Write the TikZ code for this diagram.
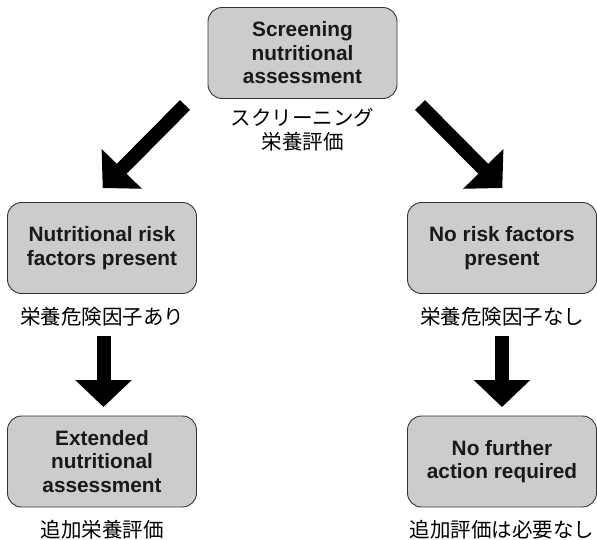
\documentclass[tikz,border=0pt]{standalone}
\usepackage{fontspec}
\setmainfont{Liberation Sans}
\newfontfamily\jpfont{Noto Sans CJK JP}
\usetikzlibrary{positioning,arrows.meta}

\begin{document}
\begin{tikzpicture}[x=1pt,y=-1pt,
  box/.style={draw=black!80,line width=0.9pt,rounded corners=14pt,fill=gray!40,
    align=center,font=\fontsize{20.8}{23.5}\selectfont\bfseries,text=black!90,
    minimum width=189pt,minimum height=91pt,inner sep=0pt},
  jlabel/.style={font=\jpfont\fontsize{20.5}{24}\selectfont,align=center},
  bigarrow/.style={line width=14pt,-{Triangle[length=27pt 0 0,width=55pt 0 0]}}]
\useasboundingbox (0,0) rectangle (597,539);
% boxes
\node[box] (scr) at (302.5,53) {Screening\\nutritional\\assessment};
\node[box] (risk) at (102,248) {Nutritional risk\\factors present};
\node[box] (norisk) at (502,248) {No risk factors\\present};
\node[box] (ext) at (102,461.5) {Extended\\nutritional\\assessment};
\node[box] (nofur) at (502,461.5) {No further\\action required};
% japanese labels
\node[jlabel] (scrj) at (302.5,130) {スクリーニング\\栄養評価};
\node[jlabel] (riskj) at (102,317) {栄養危険因子あり};
\node[jlabel] (noriskj) at (502,317) {栄養危険因子なし};
\node[jlabel] (extj) at (102,530) {追加栄養評価};
\node[jlabel] (nofurj) at (502,530) {追加評価は必要なし};
% arrow ends
\coordinate (l1) at (185,105);
\coordinate (l2) at (102.7,188);
\coordinate (r1) at (420,105);
\coordinate (r2) at (502.3,188);
\coordinate (l3) at (103.5,336);
\coordinate (l4) at (103.5,407);
\coordinate (r3) at (502,336);
\coordinate (r4) at (502,407);
\draw[bigarrow] (l1) -- (l2);
\draw[bigarrow] (r1) -- (r2);
\draw[bigarrow] (l3) -- (l4);
\draw[bigarrow] (r3) -- (r4);
\end{tikzpicture}
\end{document}
